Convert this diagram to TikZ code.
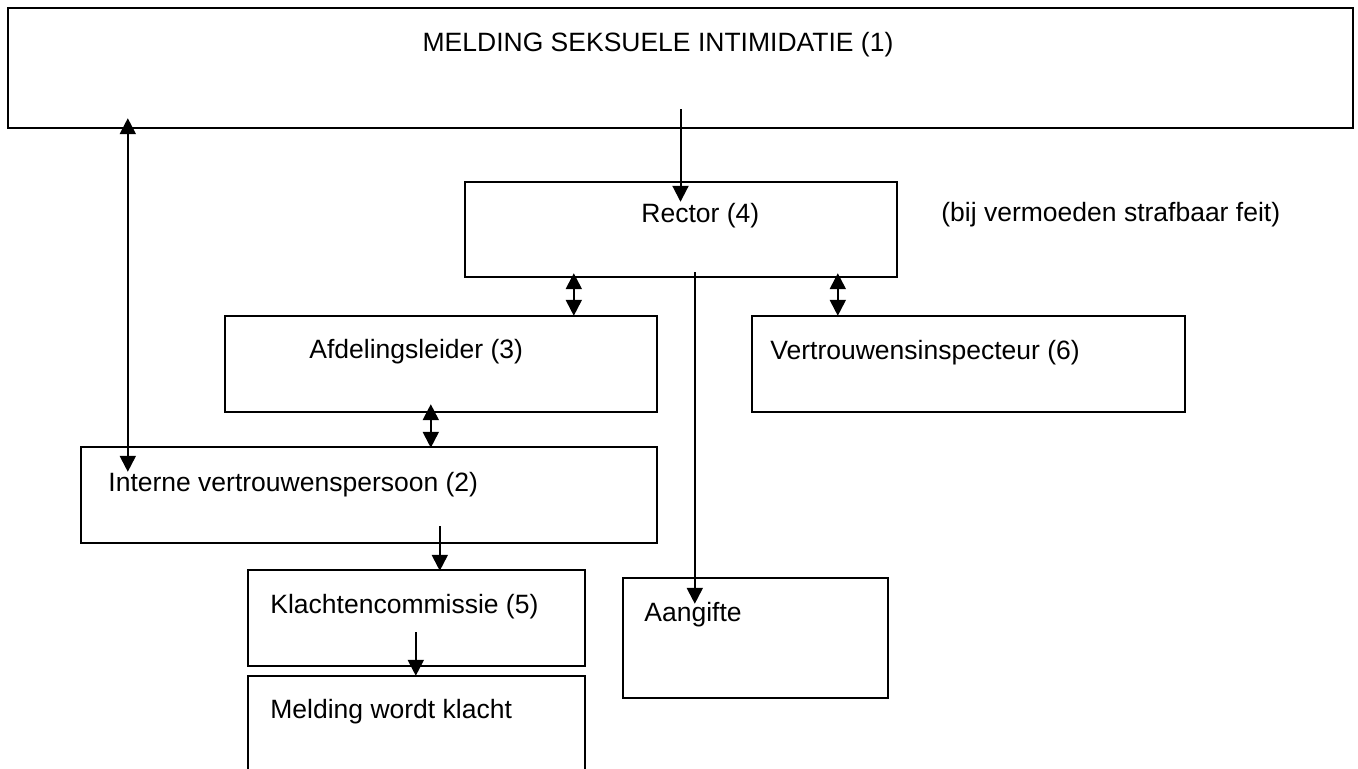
\documentclass[tikz,border=0pt]{standalone}
\usepackage{fontspec}
\setmainfont{Liberation Sans}
\usetikzlibrary{positioning,arrows.meta,calc,fit}

\begin{document}
\begin{tikzpicture}[x=0.5pt,y=-0.5pt,
  kader/.style={draw,line width=1.2pt,inner sep=0pt},
  tekst/.style={font=\fontsize{13.25}{16}\selectfont,inner sep=0pt},
  pijl/.style={line width=1pt,-{Triangle[length=8pt,width=8pt]}},
  tweepijl/.style={line width=1pt,{Triangle[length=8pt,width=8pt]}-{Triangle[length=8pt,width=8pt]}}]
  % coordinates are pixels of the scanned page, y runs down
  \useasboundingbox (0,0) rectangle (1358,769);
  \clip (0,0) rectangle (1358,769);
  \fill[white] (0,0) rectangle (1358,769);
  % boxes
  \node[kader,fit={(8,8) (1353,128)}] (melding) {};
  \node[kader,fit={(465,182) (897,277)}] (rector) {};
  \node[kader,fit={(225,316) (657,412)}] (afdeling) {};
  \node[kader,fit={(752,316) (1185,412)}] (inspecteur) {};
  \node[kader,fit={(81,447) (657,543)}] (interne) {};
  \node[kader,fit={(248,570) (585,666)}] (klacht) {};
  \node[kader,fit={(248,676) (585,800)}] (wordtklacht) {}; % runs off the page
  \node[kader,fit={(623,578) (888,698)}] (aangifte) {};
  % texts
  \node[tekst,anchor=base] (melding-t) at (658,52) {MELDING SEKSUELE INTIMIDATIE (1)};
  \node[tekst,anchor=base west] (rector-t) at (641,223) {Rector (4)};
  \node[tekst,anchor=base west] (strafbaar-t) at (941,222) {(bij vermoeden strafbaar feit)};
  \node[tekst,anchor=base west] (afdeling-t) at (309,359) {Afdelingsleider (3)};
  \node[tekst,anchor=base west] (inspecteur-t) at (770,360) {Vertrouwensinspecteur (6)};
  \node[tekst,anchor=base west] (interne-t) at (108,491) {Interne vertrouwenspersoon (2)};
  \node[tekst,anchor=base west] (klacht-t) at (270,613) {Klachtencommissie (5)};
  \node[tekst,anchor=base west] (aangifte-t) at (644,621) {Aangifte};
  \node[tekst,anchor=base west] (wordtklacht-t) at (270,718) {Melding wordt klacht};
  % connectors (they start and end a little inside the boxes)
  \draw[pijl] ($(melding.south)+(0,-20)$) -- ($(melding.south |- rector.north)+(0,21)$);
  \draw[tweepijl] ($(interne.north west)+(48,26)$) -- ($(melding.south west)+(121,-11)$);
  \draw[tweepijl] ($(rector.south west)+(110,-5)$) -- ($(afdeling.north west)+(350,1)$);
  \draw[tweepijl] ($(rector.south west)+(374,-5)$) -- ($(inspecteur.north west)+(87,1)$);
  \draw[tweepijl] ($(afdeling.south west)+(207,-9)$) -- ($(interne.north west)+(351,2)$);
  \draw[pijl] ($(interne.south west)+(360,-18)$) -- ($(klacht.north west)+(193,2)$);
  \draw[pijl] ($(klacht.south west)+(169,-35)$) -- ($(wordtklacht.north west)+(169,1)$);
  \draw[pijl] ($(rector.south west)+(231,-6)$) -- ($(aangifte.north west)+(73,27)$);
\end{tikzpicture}
\end{document}
